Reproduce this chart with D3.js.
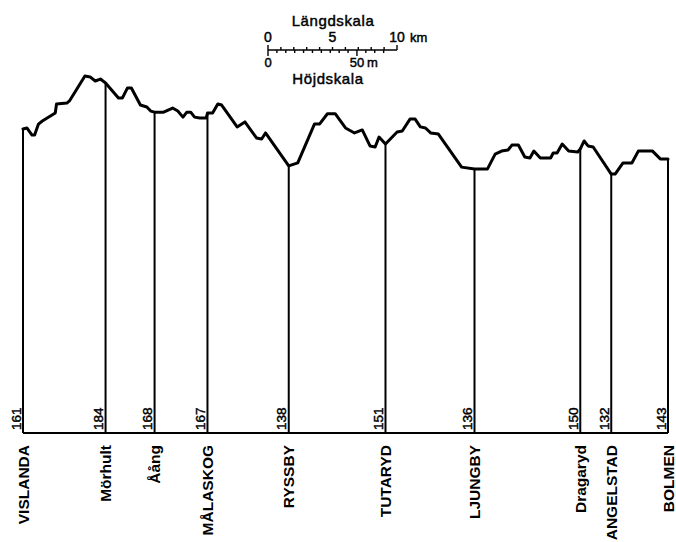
<!DOCTYPE html>
<html>
<head>
<meta charset="utf-8">
<script src="https://cdn.jsdelivr.net/npm/d3@7"></script>
<style>
  html, body { margin: 0; padding: 0; background: #fff; }
  svg { display: block; font-family: "Liberation Sans", Arial, Helvetica, sans-serif; }
  .profile { fill: none; stroke: #000; stroke-width: 3; stroke-linejoin: round; stroke-linecap: round; }
  .post { stroke: #000; stroke-width: 2; }
  .base { stroke: #000; stroke-width: 2; }
  .bar line { stroke: #000; stroke-width: 1.4; }
  .thick { stroke: #000; stroke-width: 0.45; }
</style>
</head>
<body>
<svg id="chart" width="676" height="542"></svg>
<script>
// längdprofil Vislanda – Bolmen: [km, m ö.h.]
const profile = [
  [0, 159], [0.3, 159.6], [0.7, 155.6], [0.9, 155.6], [1.2, 161.8], [1.5, 163.5], [2.5, 168], [2.6, 173.1],
  [3.4, 173.6], [3.6, 174.8], [4.8, 188.8], [5.2, 188.3], [5.6, 186], [6.0, 187.1], [6.4, 184.9], [7.4, 176.4],
  [7.7, 176.4], [8.1, 182.1], [8.4, 182.1], [9.1, 172.5], [9.6, 171.4], [9.9, 169.1], [10.2, 168.5], [10.9, 168.5],
  [11.6, 170.8], [12.0, 169.1], [12.4, 165.7], [12.7, 168.5], [13.0, 168.5], [13.3, 165.7], [13.7, 165.2], [14.2, 165.2],
  [14.3, 168], [14.7, 168], [15.1, 173.1], [15.4, 172.5], [16.6, 160.2], [17.2, 163], [18.1, 154], [18.5, 153.4],
  [18.8, 156.8], [20.6, 138.3], [21.3, 140], [22.6, 161.9], [23.0, 161.9], [23.6, 167.6], [24.2, 167.6], [25.0, 159.6],
  [25.7, 156.8], [26.3, 158.5], [26.9, 149.5], [27.3, 148.9], [27.6, 154.5], [28.1, 150.6], [29.0, 157.3], [29.4, 157.9],
  [30.0, 164.6], [30.4, 164.6], [30.8, 160.2], [31.2, 159.6], [31.6, 156.8], [32.2, 156.2], [34.0, 137.6], [35.0, 136.5],
  [36.0, 136.5], [36.6, 144.9], [37.1, 146.6], [37.6, 147.2], [37.9, 150], [38.4, 150], [38.9, 143.3], [39.3, 142.7],
  [39.6, 146.6], [40.1, 142.7], [40.9, 142.7], [41.1, 145.5], [41.4, 145.5], [41.8, 150.6], [42.3, 146.6], [43.0, 146.1],
  [43.2, 147.8], [43.5, 152.3], [43.8, 149.5], [44.2, 148.9], [45.6, 133.7], [45.9, 133.7], [46.5, 139.9], [47.2, 139.9],
  [47.7, 146.6], [48.8, 146.6], [49.4, 142.2], [50, 142.2]
];

const stationNames = ['VISLANDA', 'Mörhult', 'Åång', 'MÅLASKOG', 'RYSSBY', 'TUTARYD', 'LJUNGBY', 'Dragaryd', 'ANGELSTAD', 'BOLMEN'];
const stationKm = [0, 6.4, 10.2, 14.3, 20.6, 28.1, 35.0, 43.2, 45.6, 50];
const stationHeight = [161, 184, 168, 167, 138, 151, 136, 150, 132, 143];

const kmTicks = [0, 5, 10];
const mTicks = [0, 50];

const svg = d3.select('#chart');
const baseY = 433;

const x = d3.scaleLinear().domain([0, 50]).range([23, 668]);
const y = d3.scaleLinear().domain([0, 200]).range([411.9, 56.1]);

const bis = d3.bisector(d => d[0]).left;
function heightAt(km) {
  const i = bis(profile, km);
  if (i <= 0) return profile[0][1];
  if (i >= profile.length) return profile[profile.length - 1][1];
  const a = profile[i - 1], b = profile[i];
  return a[1] + (b[1] - a[1]) * (km - a[0]) / (b[0] - a[0]);
}

const stations = stationNames.map((name, i) => ({ name, km: stationKm[i], h: stationHeight[i] }));

// baslinje
svg.append('line').attr('class', 'base')
  .attr('x1', x(0)).attr('x2', x(50)).attr('y1', baseY).attr('y2', baseY);

// stationsstolpar
svg.selectAll('line.post').data(stations).enter().append('line')
  .attr('class', 'post')
  .attr('x1', d => x(d.km)).attr('x2', d => x(d.km))
  .attr('y1', baseY).attr('y2', d => y(heightAt(d.km)));

// profil
svg.append('path').attr('class', 'profile')
  .attr('d', d3.line().x(d => x(d[0])).y(d => y(d[1]))(profile));

// höjdsiffror
svg.selectAll('text.h').data(stations).enter().append('text')
  .attr('class', 'h thick')
  .attr('transform', d => `translate(${x(d.km) - 2.5}, ${baseY - 3}) rotate(-90)`)
  .attr('font-size', 13.5)
  .text(d => d.h);

// stationsnamn
svg.selectAll('text.name').data(stations).enter().append('text')
  .attr('class', 'name')
  .attr('transform', d => `translate(${x(d.km) + 5.5}, ${baseY + 12}) rotate(-90)`)
  .attr('text-anchor', 'end')
  .attr('font-size', 15.5)
  .attr('font-weight', 'bold')
  .text(d => d.name);

// skalstock
const bx = 268, by = 50;
const kmBar = d3.scaleLinear().domain([0, 10]).range([bx, bx + x(10) - x(0)]);
const mBar = d3.scaleLinear().domain([0, 65]).range([bx, bx + y(0) - y(65)]);
const bar = svg.append('g').attr('class', 'bar');

bar.append('line').attr('x1', kmBar(0)).attr('x2', kmBar(10)).attr('y1', by).attr('y2', by);
bar.append('line').attr('x1', kmBar(0)).attr('x2', kmBar(0)).attr('y1', by - 5).attr('y2', by + 6);
bar.selectAll('line.kt').data(d3.range(1, 11)).enter().append('line').attr('class', 'kt')
  .attr('x1', d => kmBar(d)).attr('x2', d => kmBar(d))
  .attr('y1', by).attr('y2', d => by - (d === 10 ? 5 : 3));
bar.selectAll('line.mt').data(d3.range(5, 66, 5)).enter().append('line').attr('class', 'mt')
  .attr('x1', d => mBar(d)).attr('x2', d => mBar(d))
  .attr('y1', by).attr('y2', d => by + (d === 50 ? 6 : 3));

bar.selectAll('text.kl').data(kmTicks).enter().append('text').attr('class', 'kl thick')
  .attr('x', d => kmBar(d)).attr('y', by - 8)
  .attr('text-anchor', 'middle').attr('font-size', 14)
  .text(d => d);
bar.append('text').attr('class', 'thick').attr('x', kmBar(10) + 13).attr('y', by - 8)
  .attr('font-size', 13).text('km');

bar.selectAll('text.ml').data(mTicks).enter().append('text').attr('class', 'ml thick')
  .attr('x', d => mBar(d)).attr('y', by + 17)
  .attr('text-anchor', 'middle').attr('font-size', 13)
  .text(d => d);
bar.append('text').attr('class', 'thick').attr('x', mBar(50) + 10).attr('y', by + 17)
  .attr('font-size', 13).text('m');

bar.append('text').attr('class', 'thick').attr('x', 333).attr('y', 26).attr('text-anchor', 'middle')
  .attr('font-size', 15).attr('letter-spacing', 0.6).text('Längdskala');
bar.append('text').attr('class', 'thick').attr('x', 328).attr('y', 84).attr('text-anchor', 'middle')
  .attr('font-size', 15).attr('letter-spacing', 0.6).text('Höjdskala');
</script>
</body>
</html>
